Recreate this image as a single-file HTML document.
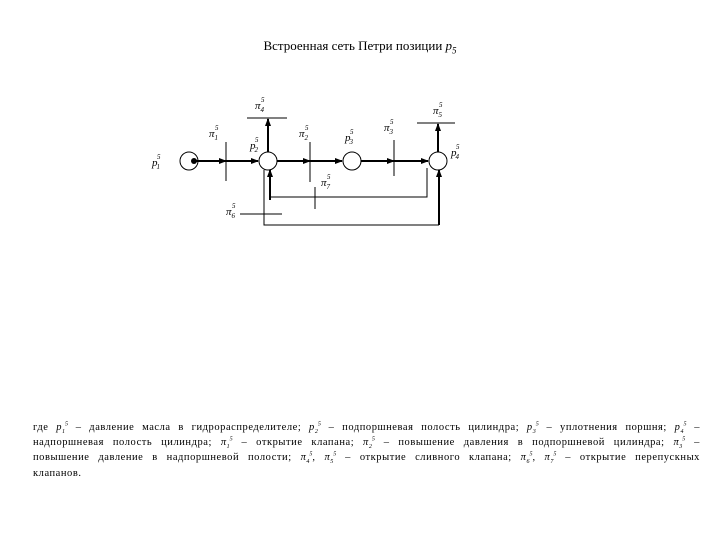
<!DOCTYPE html><html><head><meta charset="utf-8"><style>
body{margin:0;width:720px;height:540px;background:#fff;font-family:"Liberation Serif",serif;position:relative;overflow:hidden}
.t{position:absolute;left:0;width:720px;top:38px;text-align:center;font-size:13px}
.l{position:absolute;left:33px;width:667px;font-size:10.5px;letter-spacing:0.55px;line-height:12px;text-align:justify;text-align-last:justify;white-space:nowrap}
.l.e{text-align-last:left}
sub,sup{font-size:6px;line-height:0;letter-spacing:0}
</style></head><body>
<div class="t">Встроенная сеть Петри позиции <i>p</i><sub style="font-size:9px"><i>5</i></sub></div>
<svg width="720" height="540" style="position:absolute;left:0;top:0" font-family="Liberation Serif,serif" font-style="italic">
<defs><marker id="a" markerWidth="8" markerHeight="8" refX="7" refY="4" orient="auto" markerUnits="userSpaceOnUse"><path d="M0,1L8,4L0,7z"/></marker></defs>
<g fill="none" stroke="#000" stroke-width="1">
<circle cx="189" cy="161" r="9"/><circle cx="268" cy="161" r="9"/><circle cx="352" cy="161" r="9"/><circle cx="438" cy="161" r="9"/>
<line x1="226" y1="142" x2="226" y2="181"/><line x1="310" y1="142" x2="310" y2="182"/><line x1="394" y1="140" x2="394" y2="176"/>
<line x1="247" y1="118" x2="287" y2="118"/><line x1="417" y1="123" x2="455" y2="123"/>
<line x1="315" y1="187" x2="315" y2="209"/><line x1="240" y1="214" x2="282" y2="214"/>
<polyline points="264,170 264,225 439,225"/><polyline points="427,168 427,197 270,197"/>
</g>
<g stroke="#000" stroke-width="2" marker-end="url(#a)">
<line x1="194" y1="161" x2="226" y2="161"/><line x1="226" y1="161" x2="258" y2="161"/>
<line x1="277" y1="161" x2="310" y2="161"/><line x1="310" y1="161" x2="342" y2="161"/>
<line x1="361" y1="161" x2="394" y2="161"/><line x1="394" y1="161" x2="428" y2="161"/>
<line x1="268" y1="152" x2="268" y2="119"/><line x1="438" y1="152" x2="438" y2="124"/>
<line x1="270" y1="200" x2="270" y2="170"/><line x1="439" y1="225" x2="439" y2="170"/>
</g>
<circle cx="194" cy="161" r="3"/>
<g font-size="11">
<text x="152" y="166">p<tspan font-size="7" dx="-1" dy="3">1</tspan><tspan font-size="7" dx="-3" dy="-10">5</tspan></text>
<text x="250" y="149">p<tspan font-size="7" dx="-1" dy="3">2</tspan><tspan font-size="7" dx="-3" dy="-10">5</tspan></text>
<text x="345" y="141">p<tspan font-size="7" dx="-1" dy="3">3</tspan><tspan font-size="7" dx="-3" dy="-10">5</tspan></text>
<text x="451" y="156">p<tspan font-size="7" dx="-1" dy="3">4</tspan><tspan font-size="7" dx="-3" dy="-10">5</tspan></text>
<text x="209" y="137">π<tspan font-size="7" dy="3">1</tspan><tspan font-size="7" dx="-3" dy="-10">5</tspan></text>
<text x="299" y="137">π<tspan font-size="7" dy="3">2</tspan><tspan font-size="7" dx="-3" dy="-10">5</tspan></text>
<text x="384" y="131">π<tspan font-size="7" dy="3">3</tspan><tspan font-size="7" dx="-3" dy="-10">5</tspan></text>
<text x="255" y="109">π<tspan font-size="7" dy="3">4</tspan><tspan font-size="7" dx="-3" dy="-10">5</tspan></text>
<text x="433" y="114">π<tspan font-size="7" dy="3">5</tspan><tspan font-size="7" dx="-3" dy="-10">5</tspan></text>
<text x="226" y="215">π<tspan font-size="7" dy="3">6</tspan><tspan font-size="7" dx="-3" dy="-10">5</tspan></text>
<text x="321" y="186">π<tspan font-size="7" dy="3">7</tspan><tspan font-size="7" dx="-3" dy="-10">5</tspan></text>
</g></svg>
<div class="l" style="top:422px">где <i>p<sub>1</sub><sup>5</sup></i> – давление масла в гидрораспределителе; <i>p<sub>2</sub><sup>5</sup></i> – подпоршневая полость цилиндра; <i>p<sub>3</sub><sup>5</sup></i> – уплотнения поршня; <i>p<sub>4</sub><sup>5</sup></i> –</div>
<div class="l" style="top:437px">надпоршневая полость цилиндра; <i>π<sub>1</sub><sup>5</sup></i> – открытие клапана; <i>π<sub>2</sub><sup>5</sup></i> – повышение давления в подпоршневой цилиндра; <i>π<sub>3</sub><sup>5</sup></i> –</div>
<div class="l" style="top:452px">повышение давление в надпоршневой полости; <i>π<sub>4</sub><sup>5</sup></i>, <i>π<sub>5</sub><sup>5</sup></i> – открытие сливного клапана; <i>π<sub>6</sub><sup>5</sup></i>, <i>π<sub>7</sub><sup>5</sup></i> – открытие перепускных</div>
<div class="l e" style="top:468px">клапанов.</div>
</body></html>
